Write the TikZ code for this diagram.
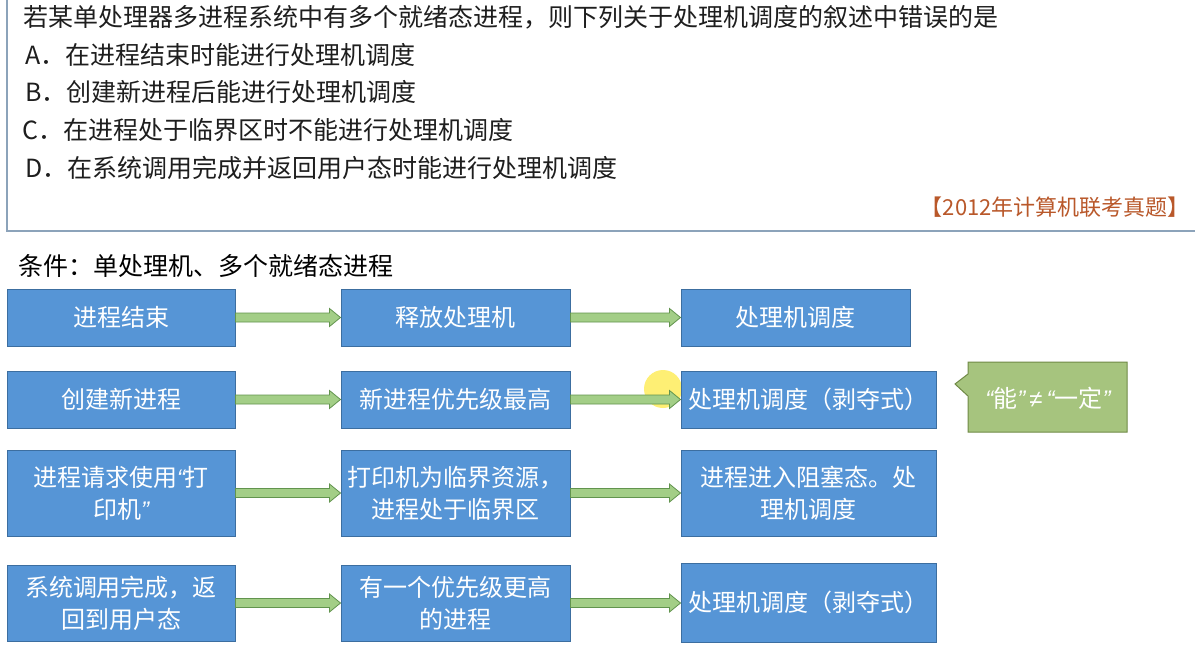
\documentclass[tikz,border=0pt]{standalone}
\usepackage{fontspec}
\setmainfont{Noto Sans CJK SC}
\newfontfamily\qfont{Liberation Sans}
\usetikzlibrary{calc}
\definecolor{boxblue}{RGB}{86,149,214}
\definecolor{boxborder}{RGB}{60,110,160}
\definecolor{arrowfill}{RGB}{163,206,135}
\definecolor{arrowdraw}{RGB}{98,148,78}
\definecolor{callfill}{RGB}{166,196,126}
\definecolor{calldraw}{RGB}{112,138,70}
\definecolor{panelline}{RGB}{140,163,186}
\definecolor{yeartext}{RGB}{185,88,42}
\definecolor{qtextcol}{RGB}{30,30,30}
\newcommand\myLQ{{\qfont\itshape “}}
\newcommand\myRQ{{\qfont\itshape ”}}
\newcommand\blockarrow[2]{%
  \path[flowarrow] let \p1=(#1.east), \p2=(#2.west) in
    (\x1,\y1+4.5pt) -- (\x2-11pt,\y1+4.5pt) -- (\x2-11pt,\y1+9pt) -- (\x2,\y1)
    -- (\x2-11pt,\y1-9pt) -- (\x2-11pt,\y1-4.5pt) -- (\x1,\y1-4.5pt) -- cycle;}
\tikzset{
  qtext/.style={anchor=west, inner sep=0pt, text=qtextcol, font=\fontsize{25}{30}\selectfont},
  stepbox/.style={draw=boxborder, fill=boxblue, line width=1pt, text=white, align=center,
    inner sep=1pt, font=\fontsize{24}{32}\selectfont},
  wA/.style={minimum width=228pt},
  wB/.style={minimum width=229pt},
  wC/.style={minimum width=255pt},
  flowarrow/.style={fill=arrowfill, draw=arrowdraw, line width=0.8pt, line join=miter},
}
\begin{document}
\begin{tikzpicture}[x=1pt,y=-1pt]
\useasboundingbox (0,0) rectangle (1195,661);
\fill[white] (0,0) rectangle (1195,661);
% top question panel
\draw[panelline, line width=1.5pt] (7,-5) rectangle (1210,231);
\node[qtext] (q) at (23,17) {若某单处理器多进程系统中有多个就绪态进程，则下列关于处理机调度的叙述中错误的是};
\node[qtext] (oa) at (25,55) {A．在进程结束时能进行处理机调度};
\node[qtext] (ob) at (25,92) {B．创建新进程后能进行处理机调度};
\node[qtext] (oc) at (22,130) {C．在进程处于临界区时不能进行处理机调度};
\node[qtext] (od) at (25,168) {D．在系统调用完成并返回用户态时能进行处理机调度};
\node[anchor=east, inner sep=0pt, text=yeartext, font=\fontsize{22}{28}\selectfont] (yr) at (1190,207) {【2012年计算机联考真题】};
% condition
\node[qtext, text=black] (cond) at (18,266) {条件：单处理机、多个就绪态进程};
% cursor highlight
\fill[yellow!85!orange, opacity=0.55] (663,389) circle (19);
% boxes
\node[stepbox, wA, minimum height=57pt] (a1) at (121,317.5) {进程结束};
\node[stepbox, wB, minimum height=57pt] (b1) at (455.5,317.5) {释放处理机};
\node[stepbox, wB, minimum height=57pt] (c1) at (795.5,317.5) {处理机调度};
\node[stepbox, wA, minimum height=57pt] (a2) at (121,399.5) {创建新进程};
\node[stepbox, wB, minimum height=57pt] (b2) at (455.5,399.5) {新进程优先级最高};
\node[stepbox, wC, minimum height=57pt] (c2) at (808.5,399.5) {处理机调度（剥夺式）};
\node[stepbox, wA, minimum height=86pt] (a3) at (121,493) {进程请求使用\myLQ 打\\印机\myRQ};
\node[stepbox, wB, minimum height=86pt] (b3) at (455.5,493) {打印机为临界资源，\\进程处于临界区};
\node[stepbox, wC, minimum height=86pt] (c3) at (808.5,493) {进程进入阻塞态。处\\理机调度};
\node[stepbox, wA, minimum height=76pt] (a4) at (121,603) {系统调用完成，返\\回到用户态};
\node[stepbox, wB, minimum height=76pt] (b4) at (455.5,603) {有一个优先级更高\\的进程};
\node[stepbox, wC, minimum height=79pt] (c4) at (808.5,602.5) {处理机调度（剥夺式）};
% arrows
\blockarrow{a1}{b1}
\blockarrow{b1}{c1}
\blockarrow{a2}{b2}
\blockarrow{b2}{c2}
\blockarrow{a3}{b3}
\blockarrow{b3}{c3}
\blockarrow{a4}{b4}
\blockarrow{b4}{c4}
% callout
\draw[fill=callfill, draw=calldraw, line width=1pt, line join=miter]
  (968,362) -- (1127,362) -- (1127,432) -- (968,432) -- (968,396) -- (955,384) -- (968,374) -- cycle;
\node[text=white, inner sep=0pt, font=\fontsize{24}{30}\selectfont] (note) at (1048,398) {\myLQ 能\myRQ{\qfont\hspace{4pt}≠\hspace{4pt}}\myLQ 一定\myRQ};
\end{tikzpicture}
\end{document}
